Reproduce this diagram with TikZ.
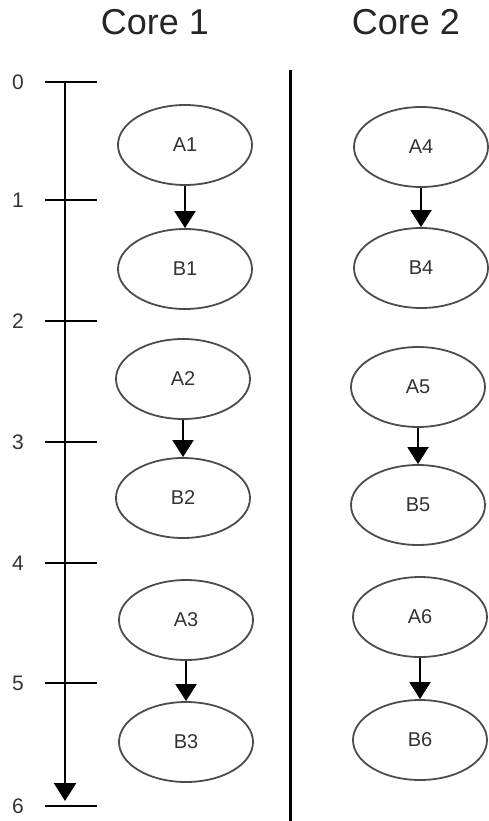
\documentclass[tikz,border=0pt]{standalone}
\usepackage{fontspec}
\setmainfont{Liberation Sans}
\usetikzlibrary{shapes.geometric,arrows.meta}
\begin{document}
\begin{tikzpicture}[x=1pt,y=-1pt,
  task/.style={ellipse,draw=black!70,line width=1.8pt,minimum width=134pt,minimum height=80pt,inner sep=0pt,font=\fontsize{20}{22}\selectfont,text=black!80},
  dep/.style={line width=2pt,-{Triangle[width=21pt,length=17pt]}},
  tickmark/.style={line width=2.6pt},
  ticklabel/.style={font=\fontsize{21}{23}\selectfont,text=black!80},
  title/.style={font=\fontsize{36}{40}\selectfont,text=black!85}]
\useasboundingbox (0,0) rectangle (488,821);
% titles
\node[title] (t1) at (155,22) {Core 1};
\node[title] (t2) at (406,22) {Core 2};
% timeline
\foreach \i/\y in {0/82,1/200,2/321,3/442,4/563,5/683,6/806}{
  \coordinate (l\i) at (45,\y);
  \coordinate (r\i) at (97,\y);
  \draw[tickmark] (l\i) -- (r\i);
  \node[ticklabel] (n\i) at (18,\y) {\i};
}
\coordinate (axtop) at (65,82);
\coordinate (axbot) at (65,801);
\draw[line width=2.6pt,-{Triangle[width=22pt,length=18pt]}] (axtop) -- (axbot);
% divider
\coordinate (dtop) at (290,70);
\coordinate (dbot) at (290,821);
\draw[line width=3pt] (dtop) -- (dbot);
% core 1
\node[task] (A1) at (185,145) {A1};
\node[task] (B1) at (185,269) {B1};
\node[task] (A2) at (183,379) {A2};
\node[task] (B2) at (183,498) {B2};
\node[task] (A3) at (186,620) {A3};
\node[task] (B3) at (186,742) {B3};
% core 2
\node[task] (A4) at (421,147) {A4};
\node[task] (B4) at (421,268) {B4};
\node[task] (A5) at (418,387) {A5};
\node[task] (B5) at (418,505) {B5};
\node[task] (A6) at (420,617) {A6};
\node[task] (B6) at (420,740) {B6};
\foreach \a/\b in {A1/B1,A2/B2,A3/B3,A4/B4,A5/B5,A6/B6}{
  \draw[dep] (\a.south) -- (\b.north);
}
\end{tikzpicture}
\end{document}
